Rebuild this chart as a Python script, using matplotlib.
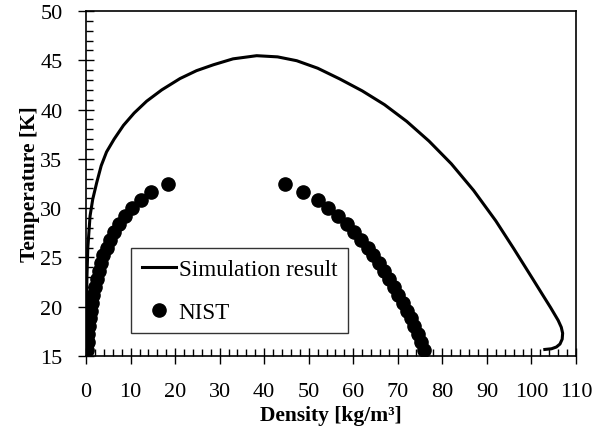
import matplotlib
matplotlib.use('Agg')
import matplotlib.pyplot as plt
from matplotlib.ticker import MultipleLocator

plt.rcParams['font.family'] = ['Liberation Serif', 'DejaVu Serif']

# simulation result (phase envelope), density [kg/m3] vs temperature [K]
sim_density = [0.1, 0.1, 0.2, 0.4, 0.9, 1.5, 2.4, 3.4, 4.6, 6.3, 8.4, 10.8, 13.6,
               17.0, 21.1, 24.8, 28.6, 33.0, 38.3, 43.0, 47.3, 52.0, 57.0, 62.0,
               67.0, 72.0, 77.0, 82.0, 87.0, 92.0, 96.0, 100.3, 102.5, 104.3,
               106.0, 106.7, 107.0, 106.9, 106.4, 105.6, 104.5, 103.0]
sim_temp = [16.0, 20.0, 23.0, 26.0, 29.2, 30.9, 32.6, 34.3, 35.7, 37.0, 38.4, 39.65,
            40.85, 42.0, 43.15, 43.95, 44.55, 45.15, 45.47, 45.35, 44.96, 44.2,
            43.1, 41.9, 40.5, 38.8, 36.8, 34.5, 31.8, 28.7, 25.9, 22.8, 21.2, 19.9,
            18.6, 17.9, 17.3, 16.7, 16.2, 15.9, 15.72, 15.65]

# NIST saturation data
nist_temp = [15.6, 16.4, 17.2, 18.0, 18.8, 19.6, 20.4, 21.2, 22.0, 22.8, 23.6,
             24.4, 25.2, 26.0, 26.8, 27.6, 28.4, 29.2, 30.0, 30.8, 31.6, 32.4]
nist_vapor = [0.3, 0.4, 0.5, 0.65, 0.85, 1.05, 1.3, 1.6, 1.95, 2.35, 2.8,
              3.3, 3.9, 4.6, 5.4, 6.3, 7.4, 8.7, 10.3, 12.3, 14.6, 18.5]
nist_liquid = [75.9, 75.2, 74.5, 73.7, 72.9, 72.0, 71.1, 70.1, 69.1, 68.1, 67.0,
               65.8, 64.5, 63.2, 61.8, 60.2, 58.5, 56.6, 54.4, 52.1, 48.8, 44.7]

fig = plt.figure(figsize=(6.06, 4.31), dpi=100)
ax = fig.add_axes([0.142, 0.172, 0.8085, 0.800])

ax.plot(sim_density, sim_temp, color='black', lw=2.2, label='Simulation result',
        zorder=3, solid_joinstyle='round')
ax.plot(nist_vapor + nist_liquid, nist_temp + nist_temp, 'o', color='black',
        ms=9.5, ls='none', label='NIST', zorder=2)

ax.set_xlim(0, 110)
ax.set_ylim(15, 50)
ax.xaxis.set_major_locator(MultipleLocator(10))
ax.xaxis.set_minor_locator(MultipleLocator(2))
ax.yaxis.set_major_locator(MultipleLocator(5))
ax.yaxis.set_minor_locator(MultipleLocator(1))
ax.tick_params(which='major', direction='inout', length=12, width=1,
               labelsize=16)
ax.tick_params(axis='y', which='major', pad=11)
ax.tick_params(axis='x', which='major', pad=13)
ax.tick_params(which='minor', direction='in', length=5, width=1)
for s in ax.spines.values():
    s.set_linewidth(1.2)

ax.set_xlabel('Density [kg/m³]', fontsize=15.5, fontweight='bold', labelpad=3)
ax.set_ylabel('Temperature [K]', fontsize=15.5, fontweight='bold', labelpad=0)

leg = ax.legend(loc='lower left', bbox_to_anchor=(0.092, 0.065), fontsize=16.7,
                frameon=True, fancybox=False, edgecolor='black',
                handlelength=1.5, handletextpad=0.1, borderpad=0.45,
                labelspacing=0.95, borderaxespad=0)
leg.get_frame().set_linewidth(1.0)

fig.savefig('out.png', dpi=100)
